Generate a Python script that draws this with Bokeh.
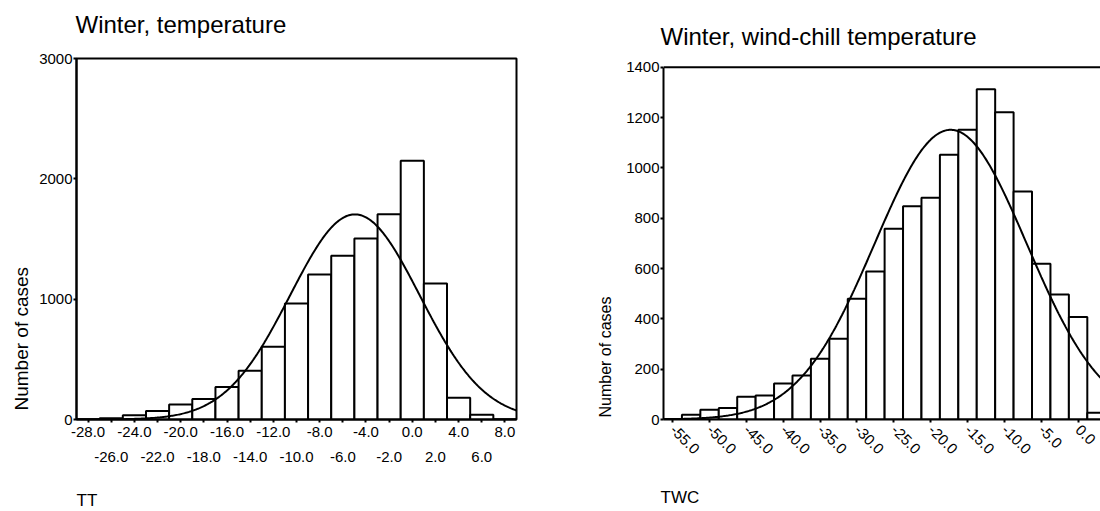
import math
import numpy as np
from bokeh.plotting import figure
from bokeh.models import Range1d, LinearAxis, FixedTicker, PrintfTickFormatter, Title, Span
from bokeh.layouts import row
from bokeh.embed import file_html
from bokeh.resources import INLINE

# ---------------- data ----------------
# Left: winter air temperature (TT), bin centres and counts
tt_centers = [-28.0, -26.0, -24.0, -22.0, -20.0, -18.0, -16.0, -14.0, -12.0, -10.0,
              -8.0, -6.0, -4.0, -2.0, 0.0, 2.0, 4.0, 6.0, 8.0]
tt_counts = [2, 10, 35, 70, 125, 170, 270, 405, 605, 965,
             1205, 1360, 1505, 1705, 2150, 1130, 180, 40, 3]
tt_bin_width = 2.0
tt_yticks = [0, 1000, 2000, 3000]

# Right: winter wind-chill temperature (TWC), bin centres and counts
twc_centers = [-55.0, -52.5, -50.0, -47.5, -45.0, -42.5, -40.0, -37.5, -35.0, -32.5,
               -30.0, -27.5, -25.0, -22.5, -20.0, -17.5, -15.0, -12.5, -10.0, -7.5,
               -5.0, -2.5, 0.0, 2.5]
twc_counts = [2, 19, 39, 46, 90, 95, 143, 175, 241, 321,
              480, 588, 758, 847, 881, 1052, 1151, 1312, 1221, 906,
              619, 497, 407, 27]
twc_bin_width = 2.5
twc_yticks = [0, 200, 400, 600, 800, 1000, 1200, 1400]

FONT = "Liberation Sans"
H = 511
TOP = 58
BOTTOM = 92


def normal_curve(centers, counts, width, x0, x1):
    c = np.array(centers, dtype=float)
    n = np.array(counts, dtype=float)
    N = n.sum()
    mu = (c * n).sum() / N
    sd = math.sqrt((n * (c - mu) ** 2).sum() / N)
    xs = np.linspace(x0, x1, 400)
    ys = N * width * np.exp(-0.5 * ((xs - mu) / sd) ** 2) / (sd * math.sqrt(2 * math.pi))
    return xs, ys


def style_axes(p):
    p.xgrid.visible = False
    p.ygrid.visible = False
    for ax in p.xaxis + p.yaxis:
        ax.axis_line_width = 2
        ax.axis_line_color = "black"
        ax.major_tick_line_width = 2
        ax.major_tick_out = 3
        ax.major_tick_in = 0
        ax.minor_tick_line_width = 2
        ax.minor_tick_out = 3
        ax.minor_tick_in = 0
        ax.major_label_text_font = FONT
        ax.major_label_text_font_size = "15px"
        ax.major_label_text_color = "black"


def spacer(px):
    return Title(text=" ", text_font_size="1px", standoff=px)


def text_title(text, size, standoff, offset, align="left"):
    return Title(text=text, align=align, offset=offset, standoff=standoff,
                 text_font=FONT, text_font_size=size, text_font_style="normal",
                 text_color="black")


# ---------------- left chart ----------------
tt_x0 = tt_centers[0] - tt_bin_width / 2
tt_x1 = tt_centers[-1] + tt_bin_width / 2
p1 = figure(width=560, height=H, x_range=Range1d(tt_x0, tt_x1), y_range=Range1d(0, 3000),
            output_backend="svg", toolbar_location=None, title=None,
            min_border_left=76, min_border_right=44, min_border_top=TOP, min_border_bottom=BOTTOM)
p1.outline_line_color = "black"
p1.outline_line_width = 2

p1.quad(left=[c - tt_bin_width / 2 for c in tt_centers],
        right=[c + tt_bin_width / 2 for c in tt_centers],
        top=tt_counts, bottom=0,
        fill_color="white", line_color="black", line_width=2)
xs, ys = normal_curve(tt_centers, tt_counts, tt_bin_width, tt_x0, tt_x1)
p1.line(xs, ys, line_color="black", line_width=2)

p1.xaxis.ticker = FixedTicker(ticks=tt_centers[::2], minor_ticks=tt_centers[1::2])
p1.xaxis.formatter = PrintfTickFormatter(format="%.1f")
p1.xaxis.major_label_standoff = 4
p1.yaxis.ticker = FixedTicker(ticks=tt_yticks)
p1.yaxis.major_label_standoff = 1
style_axes(p1)

ax2 = LinearAxis(ticker=FixedTicker(ticks=tt_centers[1::2]),
                 formatter=PrintfTickFormatter(format="%.1f"),
                 axis_line_color=None, major_tick_line_color=None, minor_tick_line_color=None,
                 major_label_standoff=6, major_label_text_font=FONT,
                 major_label_text_font_size="15px", major_label_text_color="black")
p1.add_layout(ax2, "below")

# title above: spacer next to the frame, then the text
p1.add_layout(spacer(16), "above")
p1.add_layout(text_title("Winter, temperature", "24px", 4, -1), "above")
# "TT" below the two label rows
p1.add_layout(spacer(20), "below")
p1.add_layout(text_title("TT", "17px", 2, 0), "below")
p1.add_layout(text_title("Number of cases", "19px", 10, 9), "left")

# ---------------- right chart ----------------
twc_x0 = twc_centers[0] - twc_bin_width / 2
twc_x1 = 3.04
twc_top = 1400
frame_px = H - TOP - BOTTOM          # frame height in pixels
top_gap_px = 8.7                     # the right chart's top line sits lower than its frame top
twc_ymax = twc_top * frame_px / (frame_px - top_gap_px)
p2 = figure(width=540, height=H, x_range=Range1d(twc_x0, twc_x1), y_range=Range1d(0, twc_ymax),
            output_backend="svg", toolbar_location=None, title=None,
            min_border_left=103, min_border_right=0, min_border_top=TOP, min_border_bottom=BOTTOM)
p2.outline_line_color = None

p2.quad(left=[c - twc_bin_width / 2 for c in twc_centers],
        right=[c + twc_bin_width / 2 for c in twc_centers],
        top=twc_counts, bottom=0,
        fill_color="white", line_color="black", line_width=2)
xs2, ys2 = normal_curve(twc_centers, twc_counts, twc_bin_width, twc_x0, twc_x1)
p2.line(xs2, ys2, line_color="black", line_width=2)
p2.add_layout(Span(location=twc_top, dimension="width", line_color="black", line_width=2))

p2.xaxis.ticker = FixedTicker(ticks=twc_centers[::2])
p2.xaxis.formatter = PrintfTickFormatter(format="%.1f")
p2.xaxis.major_label_orientation = -math.pi / 4
p2.xaxis.major_label_standoff = 5
p2.yaxis.ticker = FixedTicker(ticks=twc_yticks)
p2.yaxis.major_label_standoff = 1
p2.yaxis.bounds = (0, twc_top)
style_axes(p2)

p2.add_layout(text_title("Winter, wind-chill temperature", "24px", 18, -3), "above")
p2.add_layout(spacer(20), "below")
p2.add_layout(text_title("TWC", "17px", 2, -3), "below")
p2.add_layout(text_title("Number of cases", "16px", 20, 2), "left")

layout = row(p1, p2)
open("out.html", "w").write(file_html(layout, INLINE))
